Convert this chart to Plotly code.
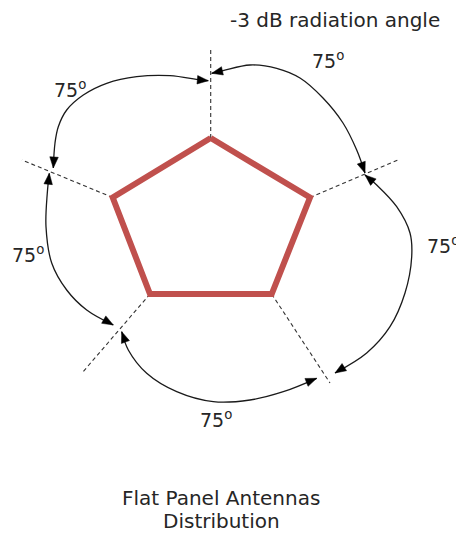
import numpy as np
import plotly.graph_objects as go

# The page body has an 8px margin: the figure is sized to the visible area and
# the axis ranges are offset so that data units equal screen pixels.
PAGE_MARGIN = 8
W, H = 464, 534

# Pentagon vertices (top, upper-right, lower-right, lower-left, upper-left)
pent_x = [210.7, 310.0, 271.7, 150.0, 112.7]
pent_y = [138.0, 197.5, 294.0, 294.0, 197.5]

# Outer end of the dashed -3 dB rays, one per vertex
ray_end_x = [210.7, 400.0, 330.0, 82.0, 22.0]
ray_end_y = [50.0, 159.0, 383.0, 373.0, 160.0]

# Double-headed arcs (sample points, tip to tip)
arc_top_left_x = [53.3, 55.0, 58.3, 66.7, 83.3, 106.7, 136.7, 170.0, 200.0, 208.3]
arc_top_left_y = [168.0, 143.0, 126.7, 110.0, 95.0, 83.3, 76.7, 75.7, 80.0, 80.7]

arc_top_right_x = [211.7, 223.0, 250.0, 276.7, 300.0, 323.0, 343.0, 356.7, 365.0]
arc_top_right_y = [73.3, 70.7, 65.0, 68.3, 78.0, 98.0, 123.0, 150.0, 173.0]

arc_right_x = [365.0, 376.7, 396.7, 410.0, 411.7, 405.0, 390.0, 366.7, 335.0]
arc_right_y = [175.0, 185.0, 206.7, 233.0, 256.7, 293.0, 326.7, 353.0, 373.0]

arc_left_x = [49.3, 47.3, 46.0, 51.7, 66.7, 86.7, 113.3]
arc_left_y = [173.3, 193.0, 226.7, 263.0, 290.0, 310.0, 325.0]

arc_bottom_x = [121.7, 128.3, 146.7, 176.7, 213.3, 250.0, 283.3, 316.7]
arc_bottom_y = [331.7, 350.0, 373.3, 391.7, 401.7, 400.0, 391.7, 378.3]

arcs = [
    (arc_top_left_x, arc_top_left_y),
    (arc_top_right_x, arc_top_right_y),
    (arc_right_x, arc_right_y),
    (arc_left_x, arc_left_y),
    (arc_bottom_x, arc_bottom_y),
]

# Angle labels
label_text = ["75<sup>o</sup>"] * 5
label_x = [70, 328, 443, 28, 216]
label_y = [89, 60, 245, 254, 419]

title_text = "-3 dB radiation angle"
caption_lines = ["Flat Panel Antennas", "Distribution"]

PENT_COLOR = "#C0504D"
INK = "#1a1a1a"
TEXT = "#262626"
FONT = "DejaVu Sans"

fig = go.Figure()

# dashed rays
for vx, vy, ex, ey in zip(pent_x, pent_y, ray_end_x, ray_end_y):
    fig.add_trace(go.Scatter(x=[vx, ex], y=[vy, ey], mode="lines",
                             line=dict(color="#333333", width=1.1, dash="4px,3px"),
                             hoverinfo="skip"))

# pentagon
fig.add_trace(go.Scatter(x=pent_x + [pent_x[0]], y=pent_y + [pent_y[0]], mode="lines",
                         line=dict(color=PENT_COLOR, width=6), hoverinfo="skip"))


def arrow_head(tip, prev, length=11.0, width=8.5):
    t = np.array(tip, dtype=float)
    p = np.array(prev, dtype=float)
    u = t - p
    u /= np.linalg.norm(u)
    n = np.array([-u[1], u[0]])
    b = t - length * u
    c1 = b + n * width / 2
    c2 = b - n * width / 2
    return [t[0], c1[0], c2[0], t[0]], [t[1], c1[1], c2[1], t[1]]


for ax_, ay_ in arcs:
    fig.add_trace(go.Scatter(x=ax_, y=ay_, mode="lines",
                             line=dict(color=INK, width=1.3, shape="spline", smoothing=1.0),
                             hoverinfo="skip"))
    for tip, prev in [((ax_[0], ay_[0]), (ax_[1], ay_[1])),
                      ((ax_[-1], ay_[-1]), (ax_[-2], ay_[-2]))]:
        hx, hy = arrow_head(tip, prev)
        fig.add_trace(go.Scatter(x=hx, y=hy, mode="lines", fill="toself",
                                 fillcolor="black", line=dict(color="black", width=0.5),
                                 hoverinfo="skip"))

annotations = []
for t, x, y in zip(label_text, label_x, label_y):
    annotations.append(dict(x=x, y=y, xref="x", yref="y", text=t, showarrow=False,
                            xanchor="center", yanchor="middle",
                            font=dict(family=FONT, size=19, color=TEXT)))
annotations.append(dict(x=335, y=20, xref="x", yref="y", text=title_text, showarrow=False,
                        xanchor="center", yanchor="middle",
                        font=dict(family=FONT, size=20, color=TEXT)))
for line, y in zip(caption_lines, [498, 521]):
    annotations.append(dict(x=221, y=y, xref="x", yref="y", text=line, showarrow=False,
                            xanchor="center", yanchor="middle",
                            font=dict(family=FONT, size=20, color=TEXT)))

fig.update_layout(
    width=W - PAGE_MARGIN, height=H - PAGE_MARGIN,
    margin=dict(l=0, r=0, t=0, b=0),
    paper_bgcolor="white", plot_bgcolor="white",
    showlegend=False,
    xaxis=dict(range=[PAGE_MARGIN, W], visible=False, fixedrange=True),
    yaxis=dict(range=[H, PAGE_MARGIN], visible=False, fixedrange=True),
    annotations=annotations,
)

fig.write_html("out.html")
